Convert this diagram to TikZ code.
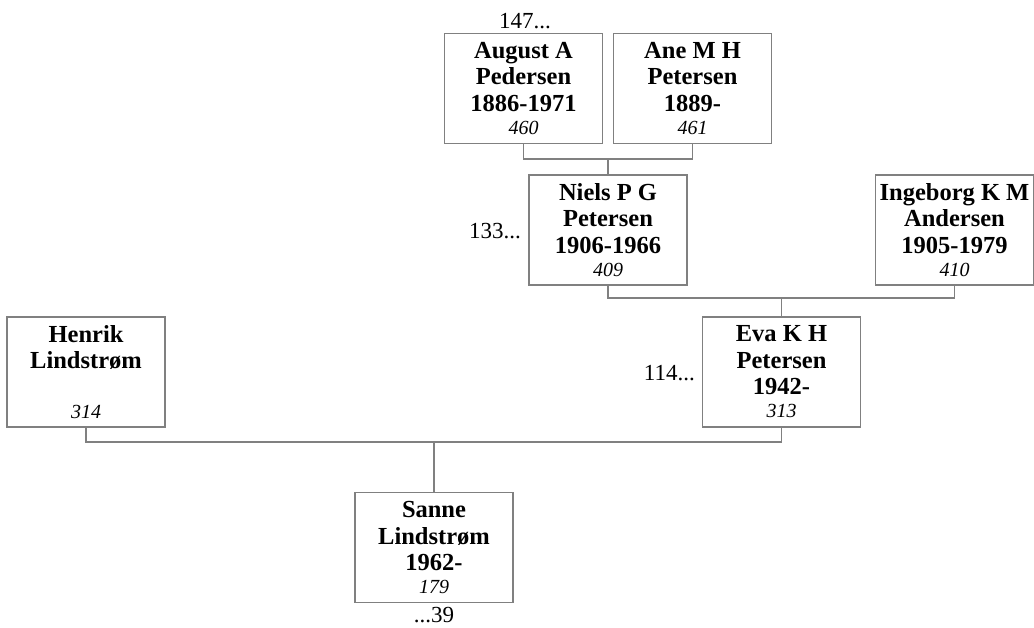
\documentclass[tikz,border=0pt]{standalone}
\usepackage{fontspec}
\setmainfont{Liberation Serif}
\definecolor{linegray}{RGB}{128,128,128}
\newcommand{\numline}[1]{\\[-3.5pt]{\fontsize{20}{26.5}\selectfont\mdseries\itshape #1}}
\begin{document}
\begin{tikzpicture}[x=1pt,y=-1pt,
  person/.style={draw=linegray,line width=1.2pt,rectangle,minimum width=158pt,minimum height=110pt,
    inner sep=1pt,align=center,font=\fontsize{24.5}{26.5}\selectfont\bfseries},
  conn/.style={draw=linegray,line width=1.2pt},
  ref/.style={font=\fontsize{23}{26.5}\selectfont,inner sep=0pt}]
\useasboundingbox (0,0) rectangle (1034,628);
\node[person] (aug) at (523.5,88.5) {August A\\Pedersen\\1886-1971\numline{460}};
\node[person] (ane) at (692.5,88.5) {Ane M H\\Petersen\\1889-\numline{461}};
\node[person] (niels) at (608,230) {Niels P G\\Petersen\\1906-1966\numline{409}};
\node[person] (ing) at (954.5,230) {Ingeborg K M\\Andersen\\1905-1979\numline{410}};
\node[person] (eva) at (781.5,372) {Eva K H\\Petersen\\1942-\numline{313}};
\node[person] (hen) at (86,372) {Henrik\\Lindstrøm\\\mbox{}\numline{314}};
\node[person] (san) at (434,547.5) {Sanne\\Lindstrøm\\1962-\numline{179}};
\coordinate (j1) at (608,159);
\coordinate (j2) at (781.5,298);
\coordinate (j3) at (434,442);
\draw[conn] (aug.south) |- (j1) -| (ane.south);
\draw[conn] (j1) -- (niels.north);
\draw[conn] (niels.south) |- (j2) -| (ing.south);
\draw[conn] (j2) -- (eva.north);
\draw[conn] (hen.south) |- (j3) -| (eva.south);
\draw[conn] (j3) -- (san.north);
\node[ref] (l147) at (525,21) {147...};
\node[ref,anchor=east] (l133) at (521,231) {133...};
\node[ref,anchor=east] (l114) at (695,373) {114...};
\node[ref] (l39) at (434,615) {...39};
\end{tikzpicture}
\end{document}
